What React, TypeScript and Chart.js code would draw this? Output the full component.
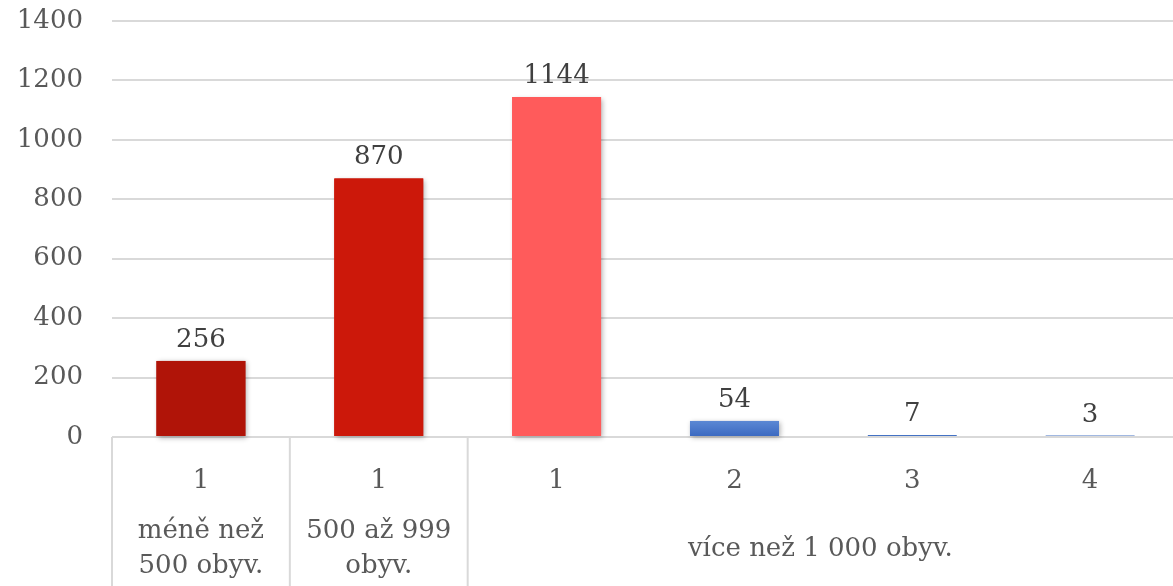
import React, { useEffect, useRef } from "react";
import { Chart, registerables } from "chart.js";

Chart.register(...registerables);

const values = [256, 870, 1144, 54, 7, 3];
const level1Labels = ["1", "1", "1", "2", "3", "4"];
const groupLabels = [["méně než", "500 obyv."], ["500 až 999", "obyv."], ["více než 1 000 obyv."]];
const groupStarts = [0, 1, 2];
const groupEnds = [0, 1, 5];
const barColors = ["#B01408", "#CC180A", "#FF5B5B", "#4674C6", "#4472C4", "#4472C4"];
const yTicks = [0, 200, 400, 600, 800, 1000, 1200, 1400];

const FONT = "'DejaVu Serif', serif";

export default function App() {
  const ref = useRef<HTMLCanvasElement | null>(null);
  useEffect(() => {
    document.body.style.margin = "0";
    const canvas = ref.current!;
    const shadowPlugin = {
      id: "shadow",
      beforeDatasetsDraw(chart: any) {
        const c = chart.ctx;
        const meta = chart.getDatasetMeta(0);
        c.save();
        c.shadowColor = "rgba(0,0,0,0.3)";
        c.shadowBlur = 5;
        c.shadowOffsetX = 1.5;
        c.shadowOffsetY = 1.5;
        meta.data.forEach((bar: any, i: number) => {
          const h = bar.base - bar.y;
          if (h < 6) return;
          c.fillStyle = barColors[i];
          c.fillRect(bar.x - bar.width / 2, bar.y, bar.width, h);
        });
        c.restore();
      },
    };
    const labelsPlugin = {
      id: "labels",
      afterDraw(chart: any) {
        const c = chart.ctx;
        const xs = chart.scales.x;
        const area = chart.chartArea;
        const meta = chart.getDatasetMeta(0);
        c.save();
        c.font = `26px ${FONT}`;
        c.fillStyle = "#404040";
        c.textAlign = "center";
        c.textBaseline = "alphabetic";
        meta.data.forEach((bar: any, i: number) => {
          c.fillText(String(values[i]), bar.x, bar.y - 14);
        });
        c.strokeStyle = "#D9D9D9";
        c.lineWidth = 2;
        groupStarts.forEach((s) => {
          const x = xs.getPixelForValue(s - 0.5);
          c.beginPath();
          c.moveTo(x, area.bottom);
          c.lineTo(x, chart.height);
          c.stroke();
        });
        c.fillStyle = "#595959";
        c.textBaseline = "middle";
        level1Labels.forEach((t, i) => {
          c.fillText(t, xs.getPixelForValue(i), area.bottom + 44);
        });
        groupLabels.forEach((lines, g) => {
          const x0 = xs.getPixelForValue(groupStarts[g] - 0.5);
          const x1 = Math.min(xs.getPixelForValue(groupEnds[g] + 0.5), chart.width);
          const cx = (x0 + x1) / 2;
          const cy = area.bottom + 112;
          const lh = 35;
          lines.forEach((ln, k) => {
            c.fillText(ln, cx, cy + (k - (lines.length - 1) / 2) * lh);
          });
        });
        c.restore();
      },
    };
    const chart: any = new Chart(canvas, {
      type: "bar",
      data: {
        datasets: [
          {
            data: values.map((v, i) => ({ x: i, y: v })),
            backgroundColor: (ctx: any) => {
              const i = ctx.dataIndex;
              const ch = ctx.chart;
              if (i === 3 && ch.chartArea && ch.scales.y) {
                const ys = ch.scales.y;
                const g = ch.ctx.createLinearGradient(0, ys.getPixelForValue(values[i]), 0, ys.getPixelForValue(0));
                g.addColorStop(0, "#5B88D4");
                g.addColorStop(1, "#3A68C0");
                return g;
              }
              return barColors[i];
            },
            barPercentage: 0.5,
            categoryPercentage: 1,
            borderWidth: 0,
            minBarLength: 1.5,
          },
        ],
      },
      options: {
        responsive: false,
        animation: false,
        layout: { padding: { top: 21, bottom: 149, left: 0, right: 0 } },
        plugins: { legend: { display: false }, tooltip: { enabled: false } },
        scales: {
          x: {
            type: "linear",
            display: false,
            min: -0.5,
            max: 5.466,
            offset: false,
            afterBuildTicks(scale: any) {
              scale.ticks = level1Labels.map((_, i) => ({ value: i }));
            },
          },
          y: {
            min: 0,
            max: 1400,
            afterFit(scale: any) {
              scale.width = 112;
            },
            afterBuildTicks(scale: any) {
              scale.ticks = yTicks.map((v) => ({ value: v }));
            },
            border: { display: false },
            grid: { color: "#D9D9D9", lineWidth: 2, drawTicks: true, tickLength: 25, tickColor: "rgba(0,0,0,0)" },
            ticks: {
              padding: 4,
              color: "#595959",
              font: { family: FONT, size: 26 },
              callback: (v: any) => String(v),
            },
          },
        },
      },
      plugins: [shadowPlugin, labelsPlugin],
    });
    return () => chart.destroy();
  }, []);
  return <canvas ref={ref} width={1173} height={586} style={{ display: "block" }} />;
}
